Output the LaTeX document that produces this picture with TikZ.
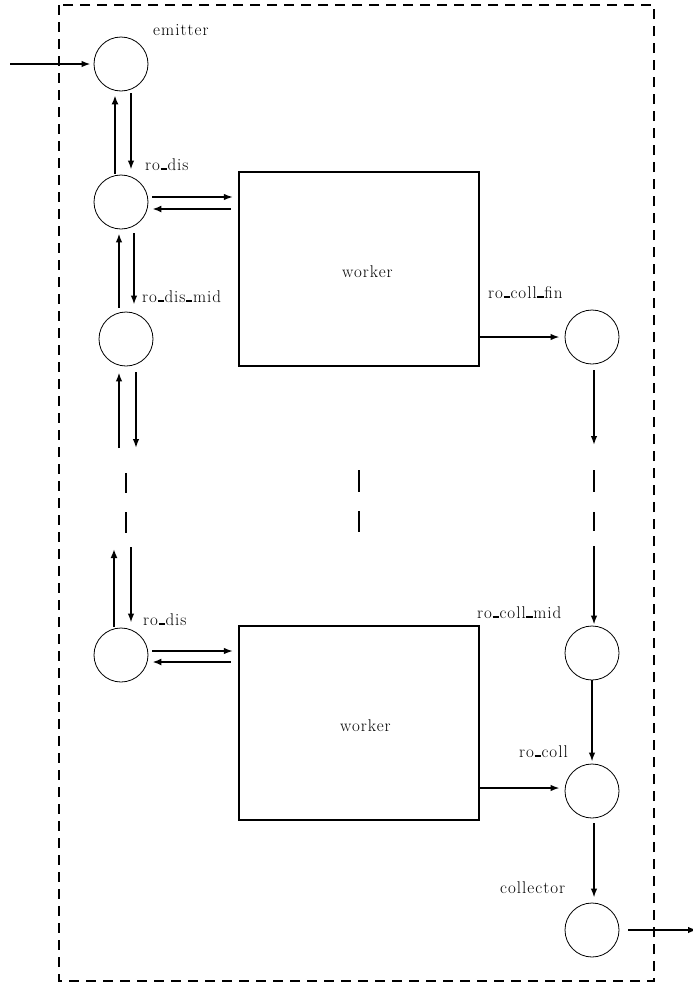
\documentclass[tikz,border=0pt]{standalone}
\usepackage{fontspec}
\setmainfont{Latin Modern Roman}[LetterSpace=6]
\usetikzlibrary{arrows.meta}
\newcommand\usc{\kern0.04em\rule{0.36em}{0.13em}\kern0.04em}
\begin{document}
\begin{tikzpicture}[x=1pt,y=-1pt,
  stage/.style={circle,draw,line width=0.8pt,minimum size=54pt,inner sep=0pt},
  workerbox/.style={rectangle,draw,line width=2.2pt,minimum width=240pt,minimum height=194pt,inner sep=0pt},
  lbl/.style={anchor=base west,inner sep=0pt,font=\fontsize{17}{20}\selectfont},
  arr/.style={line width=1.6pt,-{Latex[length=9pt,width=6.5pt]}},
  tarr/.style={line width=2.8pt,-{Latex[length=9pt,width=7pt]}},
  gap/.style={line width=1.8pt},
  border/.style={line width=1.8pt,dash pattern=on 10pt off 7pt}]
\useasboundingbox (0,0) rectangle (693,983);
\draw[border] (59,5) rectangle (654,981);
% nodes
\node[stage] (emit) at (121,64) {};
\node[stage] (rd1) at (121,202) {};
\node[stage] (rdm) at (126,339) {};
\node[stage] (rd2) at (121,655) {};
\node[stage] (rcf) at (592,337) {};
\node[stage] (rcm) at (592,653) {};
\node[stage] (rc) at (592,791) {};
\node[stage] (coll) at (592,930) {};
\node[workerbox] (w1) at (359,269) {};
\node[workerbox] (w2) at (359,723) {};
\node[lbl] (lw1) at (342,277) {worker};
\node[lbl] (lw2) at (340,731) {worker};
% labels
\node[lbl] (lemit) at (153,35) {emitter};
\node[lbl] (lrd1) at (145,170) {ro\usc dis};
\node[lbl] (lrdm) at (142,302) {ro\usc dis\usc mid};
\node[lbl] (lrd2) at (143,625) {ro\usc dis};
\node[lbl] (lrcf) at (488,298) {ro\usc coll\usc fin};
\node[lbl] (lrcm) at (477,618) {ro\usc coll\usc mid};
\node[lbl] (lrc) at (519,757) {ro\usc coll};
\node[lbl] (lcoll) at (500,893) {collector};
% free ends
\coordinate (in) at (10,64);
\coordinate (out) at (697,930);
\coordinate (la) at (119,448);
\coordinate (lb) at (136,448);
\coordinate (lc) at (114,627);
\coordinate (lcend) at (114,549);
\coordinate (ld) at (131,547);
\coordinate (ra) at (594,445);
\coordinate (rb) at (594,546);
% input
\draw[arr] (in) -- ([xshift=-3pt]emit.west);
% emitter <-> ro_dis
\draw[tarr] ([xshift=-6pt,yshift=1pt]rd1.north) -- ([xshift=-6pt,yshift=-4pt]emit.south);
\draw[arr] ([xshift=10pt,yshift=-2pt]emit.south) -- ([xshift=10pt,yshift=5pt]rd1.north);
% ro_dis <-> worker 1
\draw[arr] ([xshift=4pt,yshift=5pt]rd1.east) -- ([xshift=-5pt,yshift=72pt]w1.west);
\draw[tarr] ([xshift=-7pt,yshift=60pt]w1.west) -- ([xshift=4pt,yshift=-7pt]rd1.east);
% ro_dis <-> ro_dis_mid
\draw[arr] ([xshift=-7pt,yshift=4pt]rdm.north) -- ([xshift=-2pt,yshift=-4pt]rd1.south);
\draw[arr] ([xshift=13pt,yshift=-4pt]rd1.south) -- ([xshift=8pt,yshift=7pt]rdm.north);
% below ro_dis_mid
\draw[arr] (la) -- ([xshift=-7pt,yshift=-6pt]rdm.south);
\draw[arr] ([xshift=10pt,yshift=-6pt]rdm.south) -- (lb);
% gaps
\draw[gap] (126,473) -- (126,493) (126,512) -- (126,533);
\draw[gap] (359,470) -- (359,492) (359,511) -- (359,532);
\draw[gap] (594,470) -- (594,492) (594,512) -- (594,531);
% to ro_dis 2
\draw[tarr] (lc) -- (lcend);
\draw[arr] (ld) -- ([xshift=10pt,yshift=5pt]rd2.north);
% ro_dis 2 <-> worker 2
\draw[arr] ([xshift=4pt,yshift=4pt]rd2.east) -- ([xshift=-5pt,yshift=72pt]w2.west);
\draw[tarr] ([xshift=-7pt,yshift=61pt]w2.west) -- ([xshift=4pt,yshift=-7pt]rd2.east);
% collectors
\draw[arr] ([yshift=-68pt]w1.east) -- ([xshift=-5pt]rcf.west);
\draw[arr] ([yshift=-65pt]w2.east) -- ([xshift=-5pt,yshift=3pt]rc.west);
\draw[arr] ([xshift=2pt,yshift=-6pt]rcf.south) -- (ra);
\draw[arr] (rb) -- ([xshift=2pt,yshift=1pt]rcm.north);
\draw[arr] (rcm.south) -- ([yshift=2pt]rc.north);
\draw[arr] ([xshift=2pt,yshift=-5pt]rc.south) -- ([xshift=2pt,yshift=5pt]coll.north);
\draw[arr] ([xshift=9pt]coll.east) -- (out);
\end{tikzpicture}
\end{document}
